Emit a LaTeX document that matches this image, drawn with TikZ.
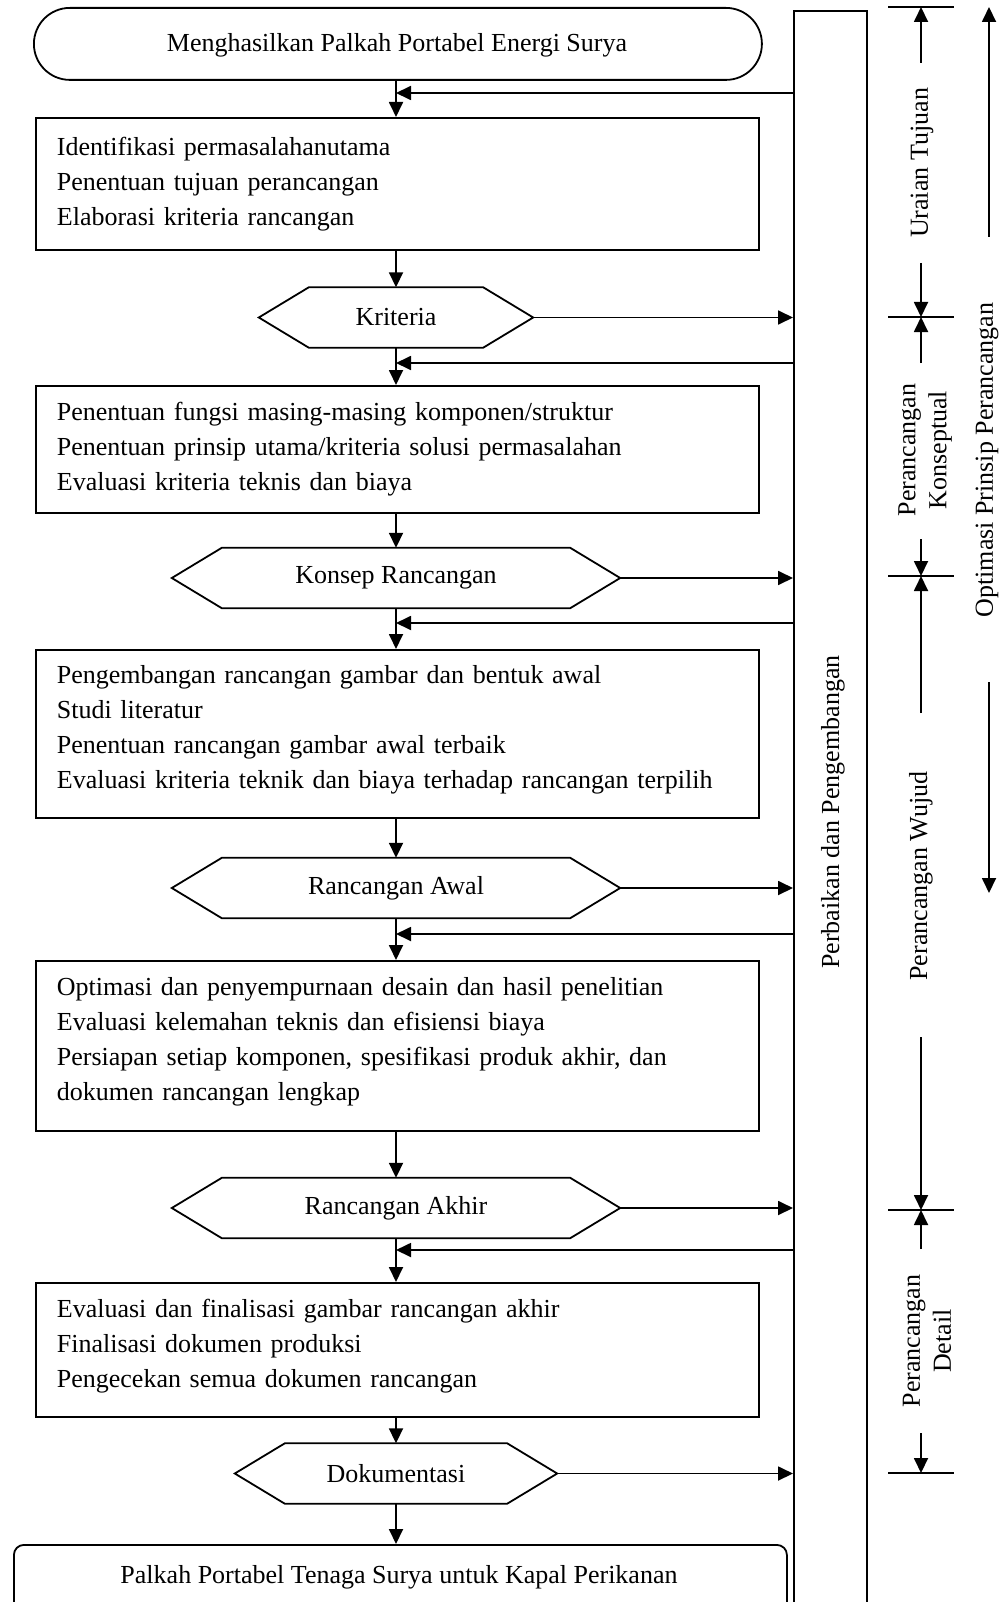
\documentclass[tikz,border=0pt]{standalone}
\usepackage{fontspec}
\setmainfont{Liberation Serif}
\usetikzlibrary{arrows.meta}
\begin{document}
\begin{tikzpicture}[x=1pt,y=-1pt,
  ln/.style={line width=1.8pt},
  tk/.style={line width=1.1pt},
  arr/.style={ln,-{Triangle[length=15pt,width=14pt]}},
  txt/.style={font=\fontsize{26}{35}\selectfont},
  stepbox/.style={draw,ln,rectangle,anchor=north west,minimum width=723pt,
    inner xsep=21pt,text width=681pt,align=left,txt},
  hexnode/.style={txt,inner sep=0pt,minimum height=60pt},
  side/.style={txt,rotate=90,align=center,font=\fontsize{26}{31}\selectfont}
]
\useasboundingbox (0,0) rectangle (1005,1602);
\coordinate (col) at (396,0);

% big side box
\node[draw,ln,rectangle,anchor=north west,minimum width=73pt,minimum height=1620pt,inner sep=0pt] (pb) at (793,10) {};
\node[txt,rotate=90] (pbt) at (833,812) {Perbaikan dan Pengembangan};

% terminals
\node[draw,ln,rectangle,rounded corners=36pt,anchor=north west,minimum width=728pt,minimum height=72pt,inner sep=0pt] (start) at (33,7) {};
\node[txt] (startt) at (397,45) {Menghasilkan Palkah Portabel Energi Surya};
\node[draw,ln,rectangle,rounded corners=10pt,anchor=north west,minimum width=773pt,minimum height=80pt,inner sep=0pt] (final) at (13,1544) {};
\node[txt] (finalt) at (399,1577) {Palkah Portabel Tenaga Surya untuk Kapal Perikanan};

% process boxes
\node[stepbox,minimum height=132pt] (b1) at (35,117) {Identifikasi permasalahanutama\\Penentuan tujuan perancangan\\Elaborasi kriteria rancangan};
\node[stepbox,minimum height=127pt] (b2) at (35,385) {Penentuan fungsi masing-masing komponen/struktur\\Penentuan prinsip utama/kriteria solusi permasalahan\\Evaluasi kriteria teknis dan biaya};
\node[stepbox,minimum height=168pt] (b3) at (35,649) {Pengembangan rancangan gambar dan bentuk awal\\Studi literatur\\Penentuan rancangan gambar awal terbaik\\Evaluasi kriteria teknik dan biaya terhadap rancangan terpilih\rule[-13pt]{0pt}{0pt}};
\node[stepbox,minimum height=170pt] (b4) at (35,960) {Optimasi dan penyempurnaan desain dan hasil penelitian\\Evaluasi kelemahan teknis dan efisiensi biaya\\Persiapan setiap komponen, spesifikasi produk akhir, dan\\dokumen rancangan lengkap\rule[-13pt]{0pt}{0pt}};
\node[stepbox,minimum height=134pt] (b5) at (35,1282) {Evaluasi dan finalisasi gambar rancangan akhir\\Finalisasi dokumen produksi\\Pengecekan semua dokumen rancangan\rule[-13pt]{0pt}{0pt}};

% hexagons
\newcommand{\hexa}[4]{%
  \node[hexnode,minimum width=#3] (#1) at (396,#2) {#4};
  \draw[ln,line join=miter] (#1.west) -- ([xshift=50pt]#1.north west) -- ([xshift=-50pt]#1.north east)
    -- (#1.east) -- ([xshift=-50pt]#1.south east) -- ([xshift=50pt]#1.south west) -- cycle;}
\hexa{krit}{317.5}{274pt}{Kriteria}
\hexa{kons}{578}{448pt}{Konsep Rancangan}
\hexa{awal}{888}{448pt}{Rancangan Awal}
\hexa{akhr}{1208}{448pt}{Rancangan Akhir}
\hexa{doku}{1473.5}{322pt}{Dokumentasi}

% main flow
\draw[arr] (start.south -| col) -- (b1.north -| col);
\draw[arr] (b1.south -| col) -- (krit.north -| col);
\draw[arr] (krit.south -| col) -- (b2.north -| col);
\draw[arr] (b2.south -| col) -- (kons.north -| col);
\draw[arr] (kons.south -| col) -- (b3.north -| col);
\draw[arr] (b3.south -| col) -- (awal.north -| col);
\draw[arr] (awal.south -| col) -- (b4.north -| col);
\draw[arr] (b4.south -| col) -- (akhr.north -| col);
\draw[arr] (akhr.south -| col) -- (b5.north -| col);
\draw[arr] (b5.south -| col) -- (doku.north -| col);
\draw[arr] (doku.south -| col) -- (final.north -| col);

% outputs to side box
\foreach \h in {krit,kons,awal,akhr,doku}
  \draw[arr] (\h.east) -- (\h.east -| pb.west);

% feedback arrows
\coordinate (r1) at (396,93);
\coordinate (r2) at (396,363);
\coordinate (r3) at (396,623);
\coordinate (r4) at (396,934);
\coordinate (r5) at (396,1250);
\foreach \r in {r1,r2,r3,r4,r5}
  \draw[arr] (\r -| pb.west) -- (\r);

% stage dimension lines
\foreach \t/\yy in {t0/7,t1/317,t2/576,t3/1210,t4/1473}
  \coordinate (\t) at (921,\yy);
\foreach \t in {t0,t1,t2,t3,t4}
  \draw[tk] ([xshift=-33pt]\t) -- ([xshift=33pt]\t);

\node[side] (ut) at (922,163) {Uraian Tujuan};
\node[side] (pk) at (925,450) {Perancangan\\Konseptual};
\node[side] (pw) at (921,876) {Perancangan Wujud};
\node[side] (pd) at (927,1341) {Perancangan\\Detail};
\node[side] (op) at (987,460) {Optimasi Prinsip Perancangan};

\coordinate (d1) at (921,63);
\coordinate (d2) at (921,263);
\coordinate (d3) at (921,363);
\coordinate (d4) at (921,539);
\coordinate (d5) at (921,713);
\coordinate (d6) at (921,1037);
\coordinate (d7) at (921,1249);
\coordinate (d8) at (921,1433);
\draw[arr] (d1) -- (t0);
\draw[arr] (d2) -- (t1);
\draw[arr] (d3) -- (t1);
\draw[arr] (d4) -- (t2);
\draw[arr] (d5) -- (t2);
\draw[arr] (d6) -- (t3);
\draw[arr] (d7) -- (t3);
\draw[arr] (d8) -- (t4);

% overall arrows
\coordinate (o1) at (989,237);
\coordinate (o2) at (989,7);
\coordinate (o3) at (989,682);
\coordinate (o4) at (989,893);
\draw[arr] (o1) -- (o2);
\draw[arr] (o3) -- (o4);
\end{tikzpicture}
\end{document}
